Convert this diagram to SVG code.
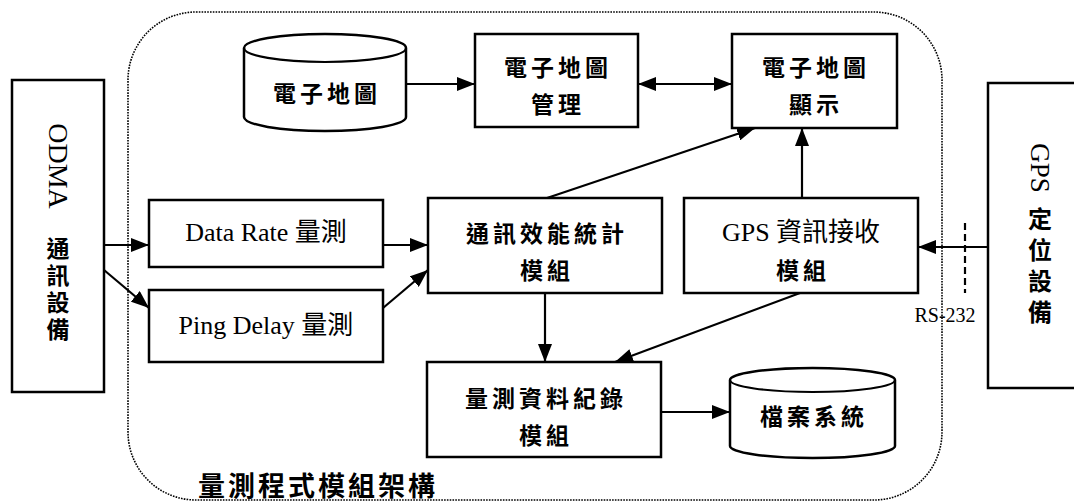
<svg xmlns="http://www.w3.org/2000/svg" width="1074" height="503" viewBox="0 0 1074 503">
<style>
.box{fill:#fff;stroke:#000;stroke-width:2.5}
.ln{fill:none;stroke:#000;stroke-width:2.2}
.t{font-family:"Liberation Serif","Noto Sans CJK TC",serif;font-size:24px;fill:#000;text-anchor:middle;dominant-baseline:central}
.c{font-family:"Noto Sans CJK TC","Liberation Serif",serif;font-size:23px;font-weight:bold;letter-spacing:4px}
.l{font-size:26px}
.v{font-family:"Noto Sans CJK TC",sans-serif;font-size:23px;font-weight:bold;fill:#000;writing-mode:vertical-rl;text-anchor:start}
</style>
<defs>
<marker id="ah" viewBox="0 0 18 14" refX="18" refY="7" markerWidth="18" markerHeight="14" orient="auto-start-reverse" markerUnits="userSpaceOnUse"><path d="M0,0 L18,7 L0,14 z" fill="#000"/></marker>
</defs>
<rect width="1074" height="503" fill="#fff"/>
<g id="frame">
<rect x="128" y="12" width="814" height="488" rx="68" ry="68" fill="none" stroke="#000" stroke-width="1.6" stroke-dasharray="1.6 1.2"/>
<text class="t c" x="318" y="484" style="font-size:27px;letter-spacing:3px">量測程式模組架構</text>
</g>
<g id="odma">
<rect class="box" x="12" y="80" width="92" height="312"/>
<text class="t" x="58" y="166" transform="rotate(90 58 166)" style="font-size:28px">ODMA</text>
<text class="v" x="58" y="237" style="letter-spacing:4px">通訊設備</text>
</g>
<g id="gpsdev">
<rect class="box" x="988" y="83" width="100" height="305"/>
<text class="t" x="1040" y="168" transform="rotate(90 1040 168)" style="font-size:27px">GPS</text>
<text class="v" x="1040" y="207" style="font-size:24px;letter-spacing:7px">定位設備</text>
</g>
<g id="mapdb">
<path class="box" d="M244,48 A81,14 0 0 1 406,48 L406,117 A81,14 0 0 1 244,117 Z"/>
<path class="ln" d="M244,48 A81,14 0 0 0 406,48" stroke-width="2.5"/>
<text class="t c" x="327" y="92">電子地圖</text>
</g>
<g id="mapmgr">
<rect class="box" x="475" y="34" width="163" height="93"/>
<text class="t c" x="558" y="66">電子地圖</text>
<text class="t c" x="558" y="103">管理</text>
</g>
<g id="mapshow">
<rect class="box" x="732" y="34" width="165" height="94"/>
<text class="t c" x="816" y="66">電子地圖</text>
<text class="t c" x="816" y="103">顯示</text>
</g>
<g id="datarate">
<rect class="box" x="149" y="200" width="234" height="67"/>
<text class="t l" x="266" y="232">Data Rate 量測</text>
</g>
<g id="ping">
<rect class="box" x="149" y="290" width="234" height="72"/>
<text class="t l" x="266" y="325">Ping Delay 量測</text>
</g>
<g id="stat">
<rect class="box" x="428" y="198" width="234" height="95"/>
<text class="t c" x="547" y="232">通訊效能統計</text>
<text class="t c" x="547" y="269">模組</text>
</g>
<g id="gpsrecv">
<rect class="box" x="684" y="198" width="234" height="95"/>
<text class="t l" x="801" y="232">GPS 資訊接收</text>
<text class="t c" x="803" y="269">模組</text>
</g>
<g id="record">
<rect class="box" x="427" y="362" width="234" height="95"/>
<text class="t c" x="546" y="397">量測資料紀錄</text>
<text class="t c" x="546" y="434">模組</text>
</g>
<g id="filesys">
<path class="box" d="M730,380 A82.5,12 0 0 1 895,380 L895,446 A82.5,12 0 0 1 730,446 Z"/>
<path class="ln" d="M730,380 A82.5,12 0 0 0 895,380" stroke-width="2.5"/>
<text class="t c" x="814" y="415">檔案系統</text>
</g>
<g id="connectors">
<line class="ln" x1="406" y1="84" x2="475" y2="84" marker-end="url(#ah)"/>
<line class="ln" x1="638" y1="84" x2="732" y2="84" marker-start="url(#ah)" marker-end="url(#ah)"/>
<line class="ln" x1="547" y1="198" x2="755" y2="128" marker-end="url(#ah)"/>
<line class="ln" x1="802" y1="198" x2="802" y2="128" marker-end="url(#ah)"/>
<line class="ln" x1="988" y1="247" x2="918" y2="247" marker-end="url(#ah)"/>
<line class="ln" x1="965" y1="223" x2="965" y2="293" stroke-dasharray="7 4"/>
<line class="ln" x1="104" y1="245" x2="149" y2="245" marker-end="url(#ah)"/>
<line class="ln" x1="383" y1="245" x2="428" y2="245" marker-end="url(#ah)"/>
<line class="ln" x1="104" y1="270" x2="149" y2="308" marker-end="url(#ah)"/>
<line class="ln" x1="383" y1="308" x2="428" y2="270" marker-end="url(#ah)"/>
<line class="ln" x1="545" y1="293" x2="545" y2="362" marker-end="url(#ah)"/>
<line class="ln" x1="800" y1="293" x2="615" y2="362" marker-end="url(#ah)"/>
<line class="ln" x1="661" y1="412" x2="730" y2="412" marker-end="url(#ah)"/>
<text class="t" x="945" y="315" style="font-size:20px">RS-232</text>
</g>
</svg>
